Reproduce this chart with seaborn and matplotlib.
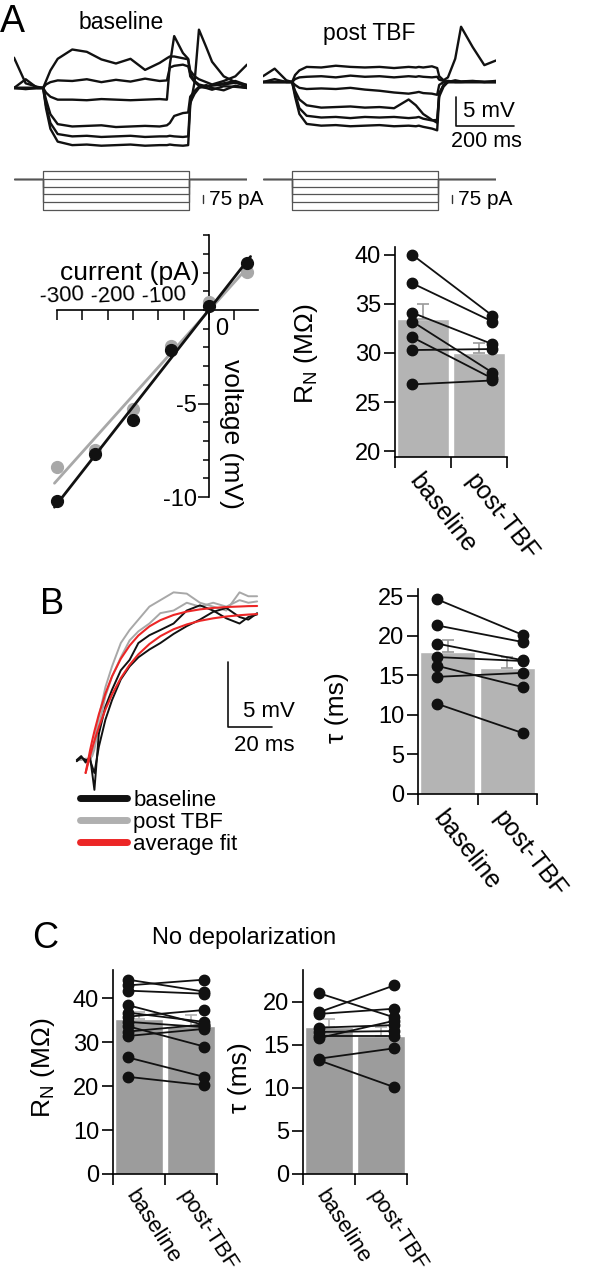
"""
Input resistance / membrane time constant figure (panels A, B, C).
Hand-read values from the reference figure, drawn with matplotlib + seaborn.
"""

import numpy as np
import matplotlib
matplotlib.use("Agg")
import matplotlib.pyplot as plt
import seaborn as sns
from matplotlib.lines import Line2D

sns.set_style("ticks")
plt.rcParams["font.family"] = ["Liberation Sans", "DejaVu Sans"]
plt.rcParams["mathtext.fontset"] = "custom"
plt.rcParams["mathtext.rm"] = "Liberation Sans"
for key in ["axes.edgecolor", "text.color", "xtick.color", "ytick.color", "axes.labelcolor"]:
    plt.rcParams[key] = "black"
plt.rcParams["axes.linewidth"] = 1.2

BLACK = "#111111"
GREY = "#a8a8a8"
BAR_AB = "#b4b4b4"
BAR_C = "#9c9c9c"
RED = "#ec2626"

# ---------------------------------------------------------------------------
# DATA
# ---------------------------------------------------------------------------
# A: voltage responses (mV re rest) to 500 ms current steps
t_A = [-100, -60, -20, 0, 10, 25, 50, 100, 150, 200, 250, 300, 350, 400, 425,
       435, 450, 480, 498, 505, 520, 535, 560, 580, 620, 660, 700]
base_traces = [
    [5.2, 0.8, 0.2, 0.0, 1.2, 3.0, 5.0, 6.6, 6.2, 4.9, 4.2, 5.0, 3.1, 4.3, 5.1, 5.4, 5.4, 5.1, 4.9, 3.0, 2.0, 1.5, 1.0, 0.6, 1.2, 2.0, 4.0],
    [0.0, 1.5, 0.0, 0.0, 0.6, 1.0, 1.3, 1.2, 1.5, 1.0, 1.4, 1.1, 1.6, 1.2, 1.3, 3.5, 3.8, 4.0, 3.7, 2.5, 1.2, 0.6, 0.3, 0.5, 0.8, 1.2, 0.5],
    [0.0, -0.2, 0.0, 0.0, -0.8, -1.5, -2.0, -2.0, -2.1, -1.9, -2.0, -2.1, -2.0, -1.9, -2.0, 4.0, 8.9, 6.0, 5.0, 2.0, 1.0, 0.4, 0.2, 0.4, 0.6, 0.9, 0.5],
    [0.0, 0.0, 0.0, 0.0, -2.0, -4.5, -6.2, -6.6, -6.5, -6.4, -6.7, -6.6, -6.5, -6.6, -6.4, -6.0, -4.8, -4.3, -4.2, -1.5, -0.5, 0.2, 0.0, -0.3, 0.3, 0.2, 0.0],
    [0.0, 0.0, 0.0, 0.0, -3.0, -6.0, -7.9, -8.3, -8.2, -8.4, -8.3, -8.2, -8.4, -8.3, -8.3, -8.2, -8.3, -8.4, -8.3, -2.5, -1.0, 0.0, 0.5, 0.0, -0.4, 0.4, 0.0],
    [0.0, 0.0, 0.0, 0.0, -3.5, -7.0, -9.2, -9.8, -9.7, -9.9, -9.8, -9.7, -9.9, -9.8, -9.8, -9.7, -9.8, -9.9, -9.8, -3.0, 1.0, 10.0, 7.0, 4.5, 2.0, 1.0, 0.2],
]
post_traces = [
    [1.0, 2.3, 0.3, 0.0, 1.2, 2.0, 2.6, 2.5, 2.8, 2.6, 2.5, 2.6, 2.4, 2.6, 2.5, 2.6, 2.5, 2.7, 2.4, 1.0, 0.3, 0.8, 4.0, 9.5, 6.0, 2.9, 3.7],
    [0.0, 0.5, 0.0, 0.0, 0.5, 0.8, 0.9, 1.0, 0.8, 1.1, 0.9, 1.0, 0.8, 1.0, 0.9, 1.0, 0.9, 0.8, 0.9, 0.4, 0.2, 0.0, 0.3, 0.1, 0.2, 0.0, 0.2],
    [0.0, 0.0, 0.0, 0.0, -0.5, -1.0, -1.2, -1.1, -1.2, -1.0, -1.3, -1.5, -1.8, -2.0, -1.8, -1.7, -1.9, -2.0, -2.2, -0.5, 0.0, 0.2, 0.0, 0.0, 0.1, 0.0, 0.0],
    [0.0, 0.0, 0.0, 0.0, -1.5, -3.0, -4.0, -4.4, -4.3, -4.2, -4.4, -4.3, -4.5, -3.0, -4.0, -4.6, -5.5, -6.5, -7.0, -2.0, -0.5, 0.0, 0.0, 0.0, 0.0, 0.0, 0.0],
    [0.0, 0.0, 0.0, 0.0, -2.0, -4.5, -5.8, -6.1, -6.0, -6.2, -6.0, -6.1, -6.0, -6.2, -6.1, -6.0, -6.3, -6.6, -6.5, -2.0, -0.5, 0.0, 0.0, 0.0, 0.0, 0.0, 0.0],
    [0.0, 0.0, 0.0, 0.0, -2.5, -5.5, -7.2, -7.5, -7.4, -7.6, -7.5, -7.4, -7.6, -7.5, -7.6, -7.5, -7.7, -8.0, -8.3, -2.5, -0.8, 0.0, 0.0, 0.0, 0.0, 0.0, 0.0],
]
step_currents = [75, 0, -75, -150, -225, -300]   # pA
step_on, step_off = 0, 500                         # ms

# A: I-V relation
iv_current = [-300, -225, -150, -75, 0, 75]
iv_base = [-10.2, -7.7, -5.9, -2.15, 0.2, 2.5]
iv_post = [-8.4, -7.5, -5.3, -1.9, 0.45, 2.05]

conditions = ["baseline", "post-TBF"]

# A: input resistance (MOhm)
rn_a_base = [40.0, 37.1, 34.1, 33.2, 31.6, 30.3, 26.8]
rn_a_post = [33.8, 33.2, 30.9, 28.0, 27.4, 30.4, 27.2]
rn_a_mean = [33.5, 30.0]
rn_a_sem = [1.5, 1.0]

# B: charging curves (mV) and tau (ms)
t_B = [-6, -4, -2, 0, 1, 2, 4, 7, 10, 14, 18, 22, 27, 32, 38, 44, 50, 56, 62, 68, 72, 76]
b_black = [
    [0.0, 0.3, -0.2, 0.25, -1.0, -2.3, 2.0, 4.1, 5.4, 6.9, 7.7, 9.0, 9.6, 10.0, 10.5, 11.5, 11.9, 11.5, 10.9, 10.5, 11.0, 11.2],
    [-0.1, 0.2, 0.0, 0.0, -0.5, -1.0, 1.0, 3.1, 4.6, 6.2, 7.2, 7.9, 8.5, 9.0, 9.7, 10.3, 10.8, 11.4, 11.7, 11.0, 10.8, 11.3],
]
b_grey = [
    [0.0, 0.1, 0.0, 0.0, 0.5, 1.5, 3.3, 5.6, 7.2, 9.0, 10.0, 10.8, 11.8, 12.3, 12.9, 12.8, 12.1, 11.8, 11.5, 12.9, 12.6, 12.6],
    [0.0, 0.0, 0.1, 0.1, 0.3, 0.8, 2.6, 4.9, 6.4, 7.9, 9.2, 9.9, 10.5, 11.3, 11.5, 12.1, 11.8, 12.1, 11.8, 12.3, 12.1, 12.2],
]
t_fit = [-2, 0, 1, 2, 4, 7, 10, 14, 18, 22, 27, 32, 38, 44, 50, 56, 62, 68, 72, 76]
fit_post = [-1.0, 0.72, 1.49, 2.21, 3.5, 5.11, 6.43, 7.79, 8.8, 9.58, 10.28, 10.76, 11.16, 11.42, 11.59, 11.7, 11.77, 11.81, 11.84, 11.85]
fit_base = [-1.0, 0.3, 0.91, 1.47, 2.51, 3.88, 5.04, 6.3, 7.32, 8.13, 8.92, 9.53, 10.06, 10.43, 10.71, 10.9, 11.04, 11.14, 11.19, 11.23]

tau_b_base = [24.6, 21.3, 19.0, 17.3, 16.2, 14.8, 11.4]
tau_b_post = [20.1, 19.2, 16.9, 16.8, 13.5, 15.3, 7.7]
tau_b_mean = [18.0, 15.9]
tau_b_sem = [1.5, 1.4]

# C: no depolarization
rn_c_base = [44.2, 42.9, 41.7, 38.4, 36.7, 35.8, 34.6, 33.6, 32.4, 31.4, 26.5, 22.1]
rn_c_post = [41.5, 44.2, 41.0, 33.9, 34.6, 37.3, 33.4, 29.0, 34.0, 33.0, 22.1, 20.2]
rn_c_mean = [35.3, 33.7]
rn_c_sem = [1.6, 2.4]

tau_c_base = [21.0, 18.8, 18.6, 17.0, 16.5, 16.0, 15.8, 13.4, 13.2]
tau_c_post = [18.2, 21.9, 19.2, 17.3, 16.6, 16.0, 17.8, 14.6, 10.1]
tau_c_mean = [17.1, 16.05]
tau_c_sem = [0.85, 1.0]

# ---------------------------------------------------------------------------
# FIGURE HELPERS (pixel layout of a 616 x 1280 figure)
# ---------------------------------------------------------------------------
W, H = 616, 1280
fig = plt.figure(figsize=(W / 100, H / 100), dpi=100)


def px_axes(x0, y0, x1, y1):
    return fig.add_axes([x0 / W, 1 - y1 / H, (x1 - x0) / W, (y1 - y0) / H])


def px_text(x, y, s, **kw):
    fig.text(x / W, 1 - y / H, s, **kw)


def bar_panel(ax, means, sems, base, post, color, ecolor, ylim, yticks, ylabel,
              label_xy, rot, xb=-0.19, xp=1.24, xfs=18):
    sns.barplot(x=conditions, y=means, color=color, saturation=1, width=0.92,
                ax=ax, zorder=1)
    ax.errorbar([0, 1], means, yerr=[[0, 0], sems], fmt="none", ecolor=ecolor,
                elinewidth=1.2, capsize=4, capthick=1.2, zorder=2)
    for b, p in zip(base, post):
        ax.plot([xb, xp], [b, p], color=BLACK, lw=1.3, marker="o", ms=7.5,
                zorder=4, clip_on=False)
    ax.set_xlim(-0.5, 1.5)
    ax.set_ylim(*ylim)
    ax.set_yticks(yticks)
    ax.tick_params(axis="y", length=8, width=1.2, labelsize=17, pad=2)
    ax.set_xticks([0, 1])
    ax.set_xticklabels(conditions, rotation=rot, ha="left", va="top",
                       rotation_mode="anchor", fontsize=xfs)
    ax.tick_params(axis="x", which="major", length=0, pad=9)
    ax.set_xticks([-0.5, 0.5, 1.5], minor=True)
    ax.tick_params(axis="x", which="minor", length=8, width=1.2)
    ax.set_xlabel("")
    ax.set_ylabel(ylabel, fontsize=19)
    ax.yaxis.set_label_coords(*label_xy)
    ax.spines[["top", "right"]].set_visible(False)


# ---------------------------------------------------------------------------
# PANEL A — traces and current steps
# ---------------------------------------------------------------------------
trace_sets = [(base_traces, 14, (-12.35, 10.8)), (post_traces, 263, (-13.4, 9.8))]
trace_axes = []
for traces, x0, ylim in trace_sets:
    ax = px_axes(x0, 25, x0 + 233, 160)
    for v in traces:
        ax.plot(t_A, v, color=BLACK, lw=1.7)
    ax.set_xlim(-100, 700)
    ax.set_ylim(*ylim)
    ax.axis("off")
    trace_axes.append(ax)

    ax_s = px_axes(x0, 165, x0 + 233, 214)
    for c in step_currents:
        ax_s.plot([-100, step_on, step_on, step_off, step_off, 700],
                  [0, 0, c, c, 0, 0], color="#555555", lw=0.9)
    ax_s.plot([550, 550], [-235, -160], color="#333333", lw=1.0)
    ax_s.text(568, -200, "75 pA", fontsize=15, ha="left", va="center")
    ax_s.set_xlim(-100, 700)
    ax_s.set_ylim(-340, 136)
    ax_s.axis("off")

# 5 mV / 200 ms scale bar on the post trace panel
ax_p = trace_axes[1]
ax_p.plot([562, 562, 762], [-2.55, -7.55, -7.55], color=BLACK, lw=1.2, clip_on=False)
ax_p.text(585, -5.0, "5 mV", fontsize=16, ha="left", va="center")
ax_p.text(668, -10.2, "200 ms", fontsize=15.5, ha="center", va="center")

px_text(0, 32, "A", fontsize=27, va="baseline")
px_text(121, 29, "baseline", fontsize=16.5, ha="center", va="baseline")
px_text(369, 40, "post TBF", fontsize=16.5, ha="center", va="baseline")

# ---------------------------------------------------------------------------
# PANEL A — I-V plot
# ---------------------------------------------------------------------------
ax = px_axes(45, 225, 265, 520)
fit_x = np.array([-305, 82])
pb = np.polyfit(iv_current, iv_base, 1)
pp = np.polyfit(iv_current, iv_post, 1)
ax.plot(fit_x, np.polyval(pp, fit_x), color=GREY, lw=2, zorder=2)
ax.plot(iv_current, iv_post, "o", color=GREY, ms=8.5, zorder=3)
ax.plot(fit_x, np.polyval(pb, fit_x), color=BLACK, lw=2, zorder=4)
ax.plot(iv_current, iv_base, "o", color=BLACK, ms=8.5, zorder=5)
ax.set_xlim(-323.7, 110.5)
ax.set_ylim(-11.23, 4.55)
ax.spines["left"].set_position(("data", 0))
ax.spines["bottom"].set_position(("data", 0))
ax.spines[["top", "right"]].set_visible(False)
ax.spines["bottom"].set_bounds(-300, 96)
ax.spines["left"].set_bounds(-10, 4)
ax.set_xticks(np.arange(-300, 51, 50))
ax.set_xticklabels([])
ax.tick_params(axis="x", length=7, width=1.1)
ax.set_yticks([-10, -5])
ax.set_yticklabels(["-10", "-5"])
ax.set_yticks(np.arange(-10, 5, 1), minor=True)
ax.tick_params(axis="y", which="major", length=8, width=1.1, labelsize=17, pad=1)
ax.tick_params(axis="y", which="minor", length=4, width=1.1)
for xt in [-300, -200, -100]:
    ax.text(xt + 10, 0.75, str(xt), fontsize=16, ha="center", va="center", rotation=4)
ax.text(26, -1.0, "0", fontsize=17, ha="center", va="center")
ax.text(-157, 1.98, "current (pA)", fontsize=19, ha="center", va="center")
ax.text(43, -6.6, "voltage (mV)", fontsize=19, ha="center", va="center", rotation=-90)

# ---------------------------------------------------------------------------
# PANEL A — R_N bars
# ---------------------------------------------------------------------------
RN_LABEL = r"R$_\mathregular{N}$ (MΩ)"
ax = px_axes(395, 247, 507, 457)
bar_panel(ax, rn_a_mean, rn_a_sem, rn_a_base, rn_a_post, BAR_AB, "#9a9a9a",
          (19.4, 40.8), [20, 25, 30, 35, 40], RN_LABEL, (-0.67, 0.49), -52)

# ---------------------------------------------------------------------------
# PANEL B — charging curves
# ---------------------------------------------------------------------------
ax = px_axes(70, 580, 300, 800)
for v in b_grey:
    ax.plot(t_B, v, color=GREY, lw=1.4)
for v in b_black:
    ax.plot(t_B, v, color=BLACK, lw=1.4)
ax.plot(t_fit, fit_post, color=RED, lw=1.5)
ax.plot(t_fit, fit_base, color=RED, lw=1.5)
ax.plot([62.7, 62.7, 82.7], [7.54, 2.54, 2.54], color=BLACK, lw=1.2, clip_on=False)
ax.text(93.2, 3.7, "5 mV", fontsize=16, ha="right", va="center")
ax.text(93.2, 1.15, "20 ms", fontsize=16, ha="right", va="center")
ax.set_xlim(-9.1, 95.5)
ax.set_ylim(-3.08, 13.85)
ax.axis("off")
handles = [Line2D([], [], color=BLACK, lw=5), Line2D([], [], color="#b0b0b0", lw=5),
           Line2D([], [], color=RED, lw=5)]
fig.legend(handles, ["baseline", "post TBF", "average fit"], loc="upper left",
           bbox_to_anchor=(80 / W, 1 - 790 / H), frameon=False, fontsize=16,
           handlelength=2.1, handletextpad=0.3, labelspacing=0.05,
           borderpad=0, borderaxespad=0)
px_text(40, 614, "B", fontsize=26, va="baseline")

# ---------------------------------------------------------------------------
# PANEL B — tau bars
# ---------------------------------------------------------------------------
TAU_LABEL = "τ (ms)"
ax = px_axes(418, 589, 537, 794)
bar_panel(ax, tau_b_mean, tau_b_sem, tau_b_base, tau_b_post, BAR_AB, "#9a9a9a",
          (0, 25.9), [0, 5, 10, 15, 20, 25], TAU_LABEL, (-0.58, 0.42), -52,
          xb=-0.18, xp=1.26)

# ---------------------------------------------------------------------------
# PANEL C — no depolarization
# ---------------------------------------------------------------------------
px_text(32, 948, "C", fontsize=26, va="baseline")
px_text(244, 944, "No depolarization", fontsize=17, ha="center", va="baseline")

ax = px_axes(113, 970, 217, 1174)
bar_panel(ax, rn_c_mean, rn_c_sem, rn_c_base, rn_c_post, BAR_C, "#b0b0b0",
          (0, 46.4), [0, 10, 20, 30, 40], RN_LABEL, (-0.54, 0.52), -57,
          xb=-0.21, xp=1.25, xfs=16)

ax = px_axes(303, 970, 407, 1174)
bar_panel(ax, tau_c_mean, tau_c_sem, tau_c_base, tau_c_post, BAR_C, "#b0b0b0",
          (0, 23.7), [0, 5, 10, 15, 20], TAU_LABEL, (-0.49, 0.47), -57,
          xb=-0.19, xp=1.25, xfs=16)

fig.savefig("out.png", dpi=100)
